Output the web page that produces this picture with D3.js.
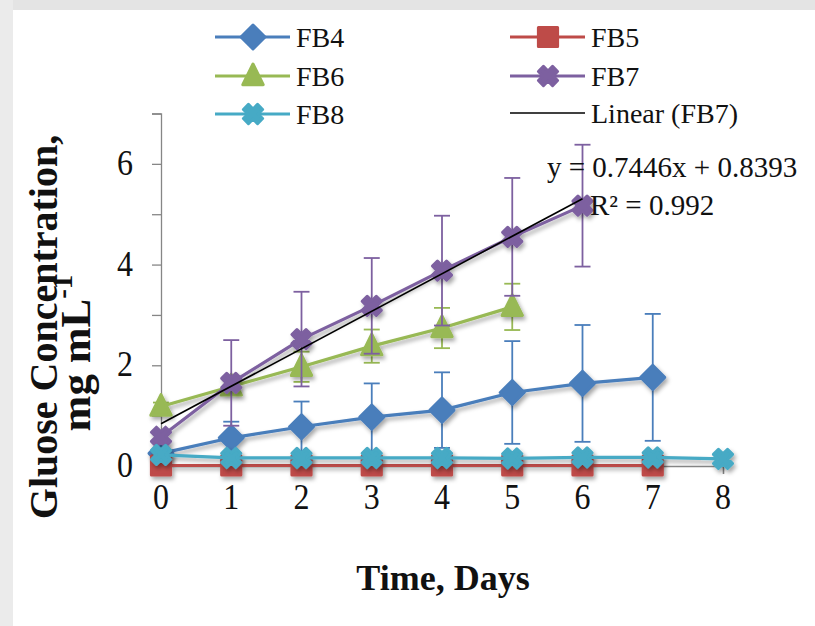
<!DOCTYPE html>
<html><head><meta charset="utf-8">
<script src="https://cdn.jsdelivr.net/npm/d3@7"></script>
<style>html,body{margin:0;padding:0;background:#fff;}svg{display:block;}</style>
</head><body>
<script>
// ---- data ----
const days = [0,1,2,3,4,5,6,7,8];
const yTicks = [0,1,2,3,4,5,6,7];
const yLabels = [0,2,4,6];
const fb4 = [0.25,0.56,0.78,0.97,1.11,1.46,1.64,1.76];
const fb4Err = [0.05,0.32,0.50,0.67,0.75,1.02,1.16,1.26];
const fb5 = [0.01,0.01,0.01,0.01,0.01,0.01,0.01,0.01];
const fb5Err = [0,0,0,0,0,0,0,0];
const fb6 = [1.18,1.58,1.97,2.38,2.74,3.16];
const fb6Err = [0.08,0.15,0.30,0.33,0.40,0.46];
const fb7 = [0.58,1.65,2.52,3.18,3.88,4.55,5.17];
const fb7Err = [0.10,0.85,0.94,0.95,1.09,1.17,1.21];
const fb8 = [0.22,0.16,0.16,0.16,0.16,0.15,0.17,0.17,0.14];
const fb8Err = [0.05,0.05,0.05,0.05,0.05,0.05,0.05,0.05,0.05];
const trendCoef = [0.7446, 0.8393];
const trendR2 = 0.992;
const trendDays = [0, 6];
const seriesNames = ["FB4","FB5","FB6","FB7","FB8"];
const seriesColors = ["#4a7ebb","#be4b48","#98b954","#7d60a0","#46aac5"];
const seriesShapes = ["diamond","square","triangle","x","x"];
const seriesValues = [fb4,fb5,fb6,fb7,fb8];
const seriesErrors = [fb4Err,fb5Err,fb6Err,fb7Err,fb8Err];
const trendName = "Linear (FB7)";

const W = 815, H = 626;
const svg = d3.select("body").append("svg").attr("width",W).attr("height",H);
const defs = svg.append("defs");
const f = defs.append("filter").attr("id","sh").attr("x","-50%").attr("y","-50%").attr("width","200%").attr("height","200%");
f.append("feDropShadow").attr("dx",2).attr("dy",3).attr("stdDeviation",2).attr("flood-color","#000").attr("flood-opacity",0.35);

// background frame
svg.append("rect").attr("x",0).attr("y",0).attr("width",W).attr("height",H).attr("fill","#fff");
svg.append("rect").attr("x",0).attr("y",0).attr("width",W).attr("height",10).attr("fill","#e4e4e4");
svg.append("rect").attr("x",0).attr("y",0).attr("width",13).attr("height",H).attr("fill","#ebebeb");

const x = d3.scaleLinear().domain([0,8]).range([161,723]);
const y = d3.scaleLinear().domain([0,7]).range([466,113.5]);

const serif = "'Liberation Serif','Times New Roman',serif";

// y axis
const yAxis = svg.append("g").attr("transform",`translate(${x(0)},0)`)
  .call(d3.axisLeft(y).tickValues(yTicks).tickSize(9).tickFormat(""));
yAxis.select(".domain").attr("stroke","#868686").attr("stroke-width",1.3);
yAxis.selectAll(".tick line").attr("stroke","#868686").attr("stroke-width",1.3);
svg.append("g").selectAll("text").data(yLabels).join("text")
  .attr("transform",d=>`translate(133,${y(d)+11}) scale(1,1.12)`).attr("text-anchor","end")
  .attr("font-family",serif).attr("font-size",32).attr("fill","#111").text(d=>d);

// x axis
const xAxis = svg.append("g").attr("transform",`translate(0,${y(0)})`)
  .call(d3.axisBottom(x).tickValues(days).tickSize(8).tickFormat(""));
xAxis.select(".domain").attr("stroke","#868686").attr("stroke-width",1.3);
xAxis.selectAll(".tick line").attr("stroke","#868686").attr("stroke-width",1.3);
svg.append("g").selectAll("text").data(days).join("text")
  .attr("transform",d=>`translate(${x(d)},509) scale(1,1.12)`).attr("text-anchor","middle")
  .attr("font-family",serif).attr("font-size",32).attr("fill","#111").text(d=>d);

// titles
svg.append("text").attr("x",443).attr("y",590).attr("text-anchor","middle")
  .attr("font-family",serif).attr("font-weight","bold").attr("font-size",36).attr("fill","#111")
  .text("Time, Days");
svg.append("text").attr("transform","translate(57,327) rotate(-90)").attr("text-anchor","middle")
  .attr("font-family",serif).attr("font-weight","bold").attr("font-size",40).attr("fill","#111")
  .text("Gluose Concentration,");
const t2 = svg.append("text").attr("transform","translate(90,353) rotate(-90)").attr("text-anchor","middle")
  .attr("font-family",serif).attr("font-weight","bold").attr("font-size",43).attr("fill","#111");
t2.append("tspan").text("mg  mL");
t2.append("tspan").attr("dy",-18).attr("font-size",29).text("-1");

// marker path
function markerPath(shape, s){
  const p = d3.path();
  if(shape==="diamond"){ p.moveTo(0,-s); p.lineTo(s,0); p.lineTo(0,s); p.lineTo(-s,0); p.closePath(); }
  else if(shape==="square"){ const h=s*0.8; p.moveTo(-h,-h); p.lineTo(h,-h); p.lineTo(h,h); p.lineTo(-h,h); p.closePath(); }
  else if(shape==="triangle"){ p.moveTo(0,-s); p.lineTo(s*0.85,s*0.72); p.lineTo(-s*0.85,s*0.72); p.closePath(); }
  else { // fat X
    const a=s*0.8, w=s*0.42;
    const pts=[[0,-w],[a-w,-a],[a,-a+w],[w,0],[a,a-w],[a-w,a],[0,w],[-a+w,a],[-a,a-w],[-w,0],[-a,-a+w],[-a+w,-a]];
    p.moveTo(pts[0][0],pts[0][1]); pts.slice(1).forEach(q=>p.lineTo(q[0],q[1])); p.closePath();
  }
  return p.toString();
}

const line = d3.line().x(d=>x(d[0])).y(d=>y(d[1]));
const capW = 8;
const mSize = 12;

seriesNames.forEach((name,i)=>{
  const vals = seriesValues[i], errs = seriesErrors[i], col = seriesColors[i];
  const pts = vals.map((v,k)=>[days[k],v]);
  const g = svg.append("g");
  // error bars
  const eb = g.append("g").attr("stroke",col).attr("stroke-width",1.8).attr("fill","none");
  pts.forEach((p,k)=>{
    const e = errs[k]; if(!e) return;
    const cx = x(p[0]), y1 = y(p[1]+e), y0 = y(p[1]-e);
    eb.append("line").attr("x1",cx).attr("x2",cx).attr("y1",y1).attr("y2",y0);
    eb.append("line").attr("x1",cx-capW).attr("x2",cx+capW).attr("y1",y1).attr("y2",y1);
    eb.append("line").attr("x1",cx-capW).attr("x2",cx+capW).attr("y1",y0).attr("y2",y0);
  });
  const sg = g.append("g").attr("filter","url(#sh)");
  sg.append("path").datum(pts).attr("d",line).attr("fill","none").attr("stroke",col).attr("stroke-width",3.2).attr("stroke-linejoin","round");
  sg.selectAll("path.m").data(pts).join("path").attr("class","m")
    .attr("transform",d=>`translate(${x(d[0])},${y(d[1])})`)
    .attr("d",markerPath(seriesShapes[i],mSize)).attr("fill",col).attr("stroke",col)
    .attr("stroke-width",3).attr("stroke-linejoin","round");
});

// trendline
svg.append("path").datum(trendDays.map(d=>[d, trendCoef[0]*d+trendCoef[1]]))
  .attr("d",line).attr("fill","none").attr("stroke","#000").attr("stroke-width",1.6);
svg.append("text").attr("x",547).attr("y",177).attr("font-family",serif).attr("font-size",29).attr("fill","#111")
  .text(`y = ${trendCoef[0]}x + ${trendCoef[1]}`);
svg.append("text").attr("x",590).attr("y",215).attr("font-family",serif).attr("font-size",29).attr("fill","#111")
  .text(`R² = ${trendR2}`);

// legend
const legItems = [
  {name:"FB4", i:0, lx:215, ly:37},
  {name:"FB5", i:1, lx:510, ly:37},
  {name:"FB6", i:2, lx:215, ly:76},
  {name:"FB7", i:3, lx:510, ly:76},
  {name:"FB8", i:4, lx:215, ly:114},
  {name:trendName, i:-1, lx:510, ly:113}
];
const leg = svg.append("g");
legItems.forEach(it=>{
  const col = it.i>=0 ? seriesColors[it.i] : "#000";
  leg.append("line").attr("x1",it.lx).attr("x2",it.lx+75).attr("y1",it.ly).attr("y2",it.ly)
    .attr("stroke",col).attr("stroke-width",it.i>=0?3.2:1.6);
  if(it.i>=0){
    leg.append("path").attr("transform",`translate(${it.lx+38},${it.ly})`)
      .attr("d",markerPath(seriesShapes[it.i],mSize)).attr("fill",col).attr("stroke",col)
      .attr("stroke-width",3).attr("stroke-linejoin","round");
  }
  leg.append("text").attr("x",it.lx+81).attr("y",it.ly+9.5).attr("font-family",serif).attr("font-size",28).attr("fill","#111").text(it.name);
});
</script>
</body></html>
